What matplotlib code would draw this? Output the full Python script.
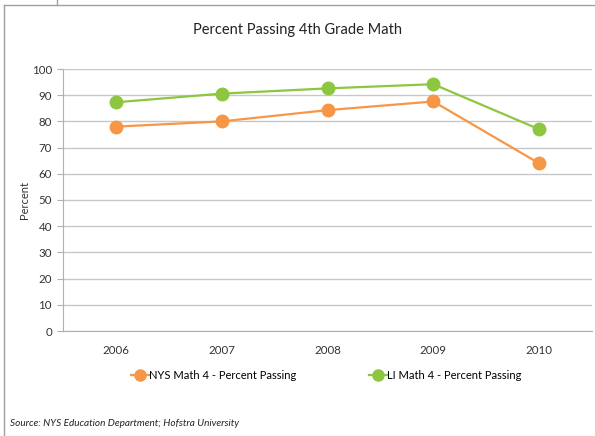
import matplotlib
matplotlib.use("Agg")
import matplotlib.pyplot as plt
from matplotlib.lines import Line2D

years = ["2006", "2007", "2008", "2009", "2010"]
nys = [78, 80, 84.3, 87.6, 64]
li = [87.3, 90.6, 92.6, 94.2, 77]
yticks = [0, 10, 20, 30, 40, 50, 60, 70, 80, 90, 100]

plt.rcParams['font.family'] = ['Lato', 'DejaVu Sans']

W, H = 595, 436
fig = plt.figure(figsize=(W / 100, H / 100), dpi=100)
fig.patch.set_facecolor("white")

ax = fig.add_axes([63 / W, 1 - 331 / H, (592 - 63) / W, (331 - 69) / H])
orange = "#F79646"
green = "#8DC63F"
x = list(range(len(years)))
ax.plot(x, nys, color=orange, lw=1.6, marker="o", ms=9, zorder=3)
ax.plot(x, li, color=green, lw=1.6, marker="o", ms=9, zorder=3)

ax.set_xlim(-0.5, len(years) - 0.5)
ax.set_ylim(0, 100)
ax.set_yticks(yticks)
ax.set_yticklabels([str(v) for v in yticks], fontsize=8.3, color="#333333")
ax.set_xticks(x)
ax.set_xticklabels(years, fontsize=8.3, color="#333333")
ax.tick_params(axis="x", length=0, pad=10)
ax.tick_params(axis="y", length=4, color="#b0b0b0", pad=4)
ax.grid(axis="y", color="#c8c8c8", lw=1)
ax.set_axisbelow(True)
for s in ["top", "right"]:
    ax.spines[s].set_visible(False)
ax.spines["left"].set_color("#b0b0b0")
ax.spines["bottom"].set_color("#b0b0b0")
ax.set_ylabel("Percent", fontsize=8, color="#333333")
ax.yaxis.set_label_coords((30 - 63) / (592 - 63), 0.5)

fig.text(0.5, 1 - 30 / H, "Percent Passing 4th Grade Math", ha="center", va="center",
         fontsize=10.5, color="#222222")

handles = [Line2D([0], [0], color=orange, lw=1.6, marker="o", ms=8),
           Line2D([0], [0], color=green, lw=1.6, marker="o", ms=8)]
fig.legend(handles, ["NYS Math 4 - Percent Passing", "LI Math 4 - Percent Passing"],
           loc="center", bbox_to_anchor=(0.548, 1 - 375 / H), ncol=2, frameon=False,
           fontsize=8, handlelength=1.6, handletextpad=0.0, columnspacing=6.6)

fig.text(10 / W, 1 - 423 / H, "Source: NYS Education Department; Hofstra University",
         ha="left", va="center", fontsize=7.2, style="italic", color="#222222")

# outer frame lines
fig.add_artist(Line2D([4 / W, 1], [1 - 5 / H, 1 - 5 / H], color="#a0a0a0", lw=1))
fig.add_artist(Line2D([4 / W, 4 / W], [0, 1 - 5 / H], color="#a0a0a0", lw=1))
fig.add_artist(Line2D([57 / W, 57 / W], [1 - 5 / H, 1], color="#a0a0a0", lw=1))

fig.savefig("out.png", dpi=100)
